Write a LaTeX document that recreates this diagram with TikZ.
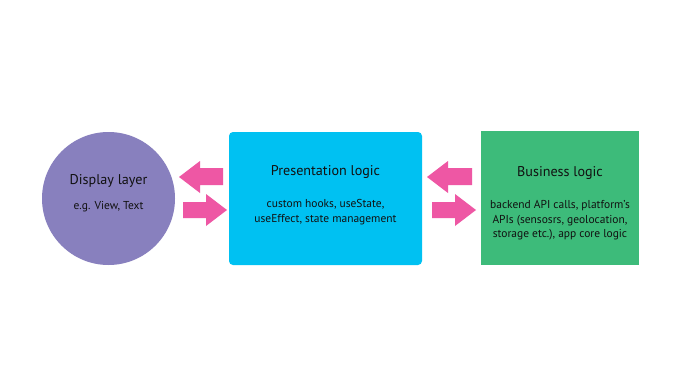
\documentclass[tikz,border=0pt]{standalone}
\usepackage{fontspec}
\setmainfont{PT Sans}
\definecolor{displaycol}{HTML}{8880BE}
\definecolor{prescol}{HTML}{00C1F2}
\definecolor{buscol}{HTML}{3DBB7A}
\definecolor{pinkcol}{HTML}{EE57A4}
\definecolor{txtcol}{HTML}{111111}
\begin{document}
\begin{tikzpicture}[x=0.75pt,y=-0.75pt,
  title/.style={font=\fontsize{10.6}{12}\selectfont, text=txtcol},
  sub/.style={font=\fontsize{8.6}{10.9}\selectfont, text=txtcol, align=center},
  blockarrow/.style={fill=pinkcol}]
\useasboundingbox[fill=white] (0,0) rectangle (679,382);
% display circle
\fill[displaycol] (108.5,198.5) circle[radius=66.5];
\node[coordinate] (dispc) at (108.5,198.5) {};
\node[title] (disptitle) at (108.5,181) {Display layer};
\node[sub] (dispsub) at (108.5,207) {e.g. View, Text};
% presentation box
\fill[prescol, rounded corners=3pt] (229,132) rectangle (422,265);
\node[title] (prestitle) at (325.5,172) {Presentation logic};
\node[sub] (pressub) at (325.5,212) {custom hooks, useState,\\useEffect, state management};
% business box
\fill[buscol] (481,131) rectangle (639,265);
\node[title] (bustitle) at (560,173) {Business logic};
\node[sub] (bussub) at (560,220.5) {backend API calls, platform's\\APIs (sensosrs, geolocation,\\storage etc.), app core logic};
% left arrows
\fill[blockarrow] (179,177) -- (200,161) -- (200,168) -- (223,168) -- (223,185) -- (200,185) -- (200,193) -- cycle;
\fill[blockarrow] (227,210) -- (206,194) -- (206,202) -- (183,202) -- (183,218) -- (206,218) -- (206,226) -- cycle;
% right arrows
\fill[blockarrow] (427,177) -- (448,161) -- (448,168) -- (472,168) -- (472,185) -- (448,185) -- (448,193) -- cycle;
\fill[blockarrow] (476,210) -- (455,194) -- (455,202) -- (432,202) -- (432,218) -- (455,218) -- (455,226) -- cycle;
\end{tikzpicture}
\end{document}
